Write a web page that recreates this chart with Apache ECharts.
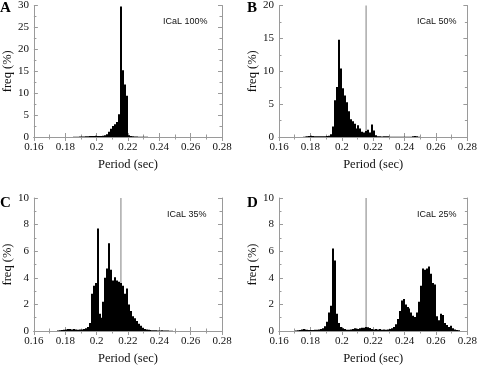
<!DOCTYPE html>
<html>
<head>
<meta charset="utf-8">
<script src="https://cdn.jsdelivr.net/npm/echarts@6/dist/echarts.min.js"></script>
<style>
  html, body { margin: 0; padding: 0; background: #fff; }
  #main { width: 480px; height: 366px; }
</style>
</head>
<body>
<div id="main"></div>
<script>
// histogram bins are 1.25 ms wide, counted from 0.16 s
var binWidth = 0.00125
var xTicks = ['0.16', '0.18', '0.2', '0.22', '0.24', '0.26', '0.28']
var controlPeriod = 0.2155

// ICaL 100%
var firstBinA = 20
var freqA = [0.03, 0.05, 0.08, 0.1, 0.1, 0.12, 0.15, 0.15, 0.2, 0.22,
  0.25, 0.3, 0.25, 0.22, 0.25, 0.3, 0.4, 0.65, 1.2, 1.9,
  2.5, 2.9, 3.4, 5.2, 29.8, 15.2, 12.0, 9.4, 0.4, 0.25,
  0.15, 0.12, 0.1, 0.08, 0.05, 0.05, 0.03, 0.03]

// ICaL 50%
var firstBinB = 12
var freqB = [0.03, 0.08, 0.12, 0.15, 0.18, 0.15, 0.12, 0.12, 0.12, 0.1,
  0.12, 0.12, 0.15, 0.2, 0.4, 1.6, 5.6, 7.6, 14.8, 10.4,
  7.4, 6.3, 5.3, 3.9, 2.7, 2.4, 2.0, 1.3, 1.8, 1.3,
  0.8, 0.7, 0.9, 1.1, 0.7, 1.9, 1.0, 0.25, 0.12, 0.1,
  0.08, 0.1, 0.12, 0.1, 0.05, 0.05, 0.05, 0.04, 0.04, 0.04,
  0.04, 0.04, 0.05, 0.05, 0.05, 0.05, 0.1, 0.15, 0.12, 0.03]

// ICaL 35%
var firstBinC = 12
var freqC = [0.03, 0.05, 0.08, 0.1, 0.12, 0.15, 0.15, 0.12, 0.15, 0.12,
  0.1, 0.12, 0.12, 0.15, 0.2, 0.3, 0.6, 2.8, 3.4, 3.6,
  7.7, 1.3, 1.0, 2.2, 4.0, 4.7, 6.6, 4.6, 3.8, 4.05,
  3.8, 3.7, 3.6, 3.4, 2.8, 3.2, 2.0, 1.5, 1.1, 0.95,
  0.75, 0.55, 0.4, 0.25, 0.15, 0.12, 0.1, 0.08, 0.06, 0.05,
  0.05, 0.04, 0.04, 0.05, 0.04, 0.03, 0.03, 0.02, 0.02]

// ICaL 25%
var firstBinD = 8
var freqD = [0.03, 0.05, 0.08, 0.12, 0.15, 0.12, 0.1, 0.08, 0.08, 0.08,
  0.1, 0.1, 0.12, 0.15, 0.2, 0.35, 0.7, 1.4, 1.9, 6.2,
  5.3, 1.3, 0.6, 0.3, 0.2, 0.15, 0.1, 0.1, 0.12, 0.15,
  0.2, 0.18, 0.15, 0.2, 0.25, 0.25, 0.3, 0.28, 0.22, 0.15,
  0.12, 0.15, 0.12, 0.15, 0.1, 0.12, 0.1, 0.12, 0.15, 0.2,
  0.3, 0.5, 0.9, 1.5, 2.3, 2.4, 2.0, 1.8, 1.7, 1.4,
  1.15, 1.05, 1.4, 2.2, 3.4, 4.7, 4.6, 4.7, 4.85, 4.3,
  3.6, 3.5, 1.1, 0.8, 1.3, 1.2, 0.6, 0.45, 0.3, 0.4,
  0.2, 0.12, 0.08, 0.05]

var panels = [
  { letter: 'A', label: 'ICaL 100%', first: firstBinA, freq: freqA, yMax: 30, yStep: 5, marker: false,
    grid: { left: 30, top: 3, width: 192, height: 134 }, lx: 163, ly: 22 },
  { letter: 'B', label: 'ICaL 50%', first: firstBinB, freq: freqB, yMax: 20, yStep: 5, marker: true,
    grid: { left: 279, top: 3, width: 193, height: 134 }, lx: 417, ly: 22 },
  { letter: 'C', label: 'ICaL 35%', first: firstBinC, freq: freqC, yMax: 10, yStep: 2, marker: true,
    grid: { left: 30, top: 198, width: 192, height: 133 }, lx: 167, ly: 215 },
  { letter: 'D', label: 'ICaL 25%', first: firstBinD, freq: freqD, yMax: 10, yStep: 2, marker: true,
    grid: { left: 279, top: 198, width: 193, height: 133 }, lx: 417, ly: 215 }
]

var serif = 'Liberation Serif'
var frame = '#9a9a9a'
var xMin = +xTicks[0]
var xMax = +xTicks[xTicks.length - 1]
var xStep = 0.02

function xLabel(v) {
  var s = (+v.toFixed(2)).toString()
  return xTicks.indexOf(s) >= 0 ? s : ''
}

var option = {
  animation: false,
  grid: [], xAxis: [], yAxis: [], series: [], graphic: []
}

panels.forEach(function (p, i) {
  option.grid.push(p.grid)
  var tick = { show: true, inside: true, length: 4, lineStyle: { color: frame } }
  var minor = { show: true, splitNumber: 2, length: 2.5, lineStyle: { color: frame } }
  var line = { show: true, lineStyle: { color: frame, width: 1 } }
  option.xAxis.push({
    type: 'value', gridIndex: i, position: 'bottom',
    min: xMin, max: xMax, interval: xStep,
    axisLine: line, axisTick: tick, minorTick: minor, splitLine: { show: false },
    axisLabel: { color: '#111', fontFamily: serif, fontSize: 11, margin: 5, formatter: xLabel },
    name: 'Period (sec)', nameLocation: 'middle', nameGap: 21,
    nameTextStyle: { color: '#111', fontFamily: serif, fontSize: 12.5 }
  })
  option.xAxis.push({
    type: 'value', gridIndex: i, position: 'top',
    min: xMin, max: xMax, interval: xStep,
    axisLine: line, axisTick: tick, minorTick: minor, splitLine: { show: false },
    axisLabel: { show: false }
  })
  option.yAxis.push({
    type: 'value', gridIndex: i, position: 'left',
    min: 0, max: p.yMax, interval: p.yStep,
    axisLine: line, axisTick: tick, minorTick: minor, splitLine: { show: false },
    axisLabel: { color: '#111', fontFamily: serif, fontSize: 11, margin: 5 },
    name: 'freq (%)', nameLocation: 'middle', nameGap: 16,
    nameTextStyle: { color: '#111', fontFamily: serif, fontSize: 12.5 }
  })
  option.yAxis.push({
    type: 'value', gridIndex: i, position: 'right',
    min: 0, max: p.yMax, interval: p.yStep,
    axisLine: line, axisTick: tick, minorTick: minor, splitLine: { show: false },
    axisLabel: { show: false }
  })

  // each bin: [start, end, freq]
  var bins = p.freq.map(function (v, k) {
    var x0 = xMin + (p.first + k) * binWidth
    return [x0, x0 + binWidth, v]
  })

  if (p.marker) {
    // control period of the 100% case
    option.series.push({
      type: 'line', xAxisIndex: 2 * i, yAxisIndex: 2 * i, z: 1, silent: true,
      symbol: 'none',
      data: [[controlPeriod, 0], [controlPeriod, p.yMax]],
      lineStyle: { color: '#aaaaaa', width: 1.5 }
    })
  }
  option.series.push({
    type: 'custom', xAxisIndex: 2 * i, yAxisIndex: 2 * i, z: 2, silent: true,
    data: bins,
    encode: { x: [0, 1], y: 2 },
    renderItem: function (params, api) {
      var a = api.coord([api.value(0), api.value(2)])
      var b = api.coord([api.value(1), 0])
      var x0 = Math.round(a[0])
      var x1 = Math.round(b[0])
      return {
        type: 'rect',
        shape: { x: x0, y: a[1], width: x1 - x0, height: b[1] - a[1] },
        style: { fill: '#000' }
      }
    }
  })

  option.graphic.push({
    type: 'text', x: p.grid.left - 30 + (i % 2 ? -2 : 0), y: p.grid.top + 5,
    style: { text: p.letter, fill: '#000', font: 'bold 15px ' + serif, textVerticalAlign: 'middle' }
  })
  option.graphic.push({
    type: 'text', x: p.lx, y: p.ly,
    style: { text: p.label, fill: '#111', font: '9px "Liberation Sans"', textVerticalAlign: 'middle' }
  })
})

var chart = echarts.init(document.getElementById('main'))
chart.setOption(option)
</script>
</body>
</html>
